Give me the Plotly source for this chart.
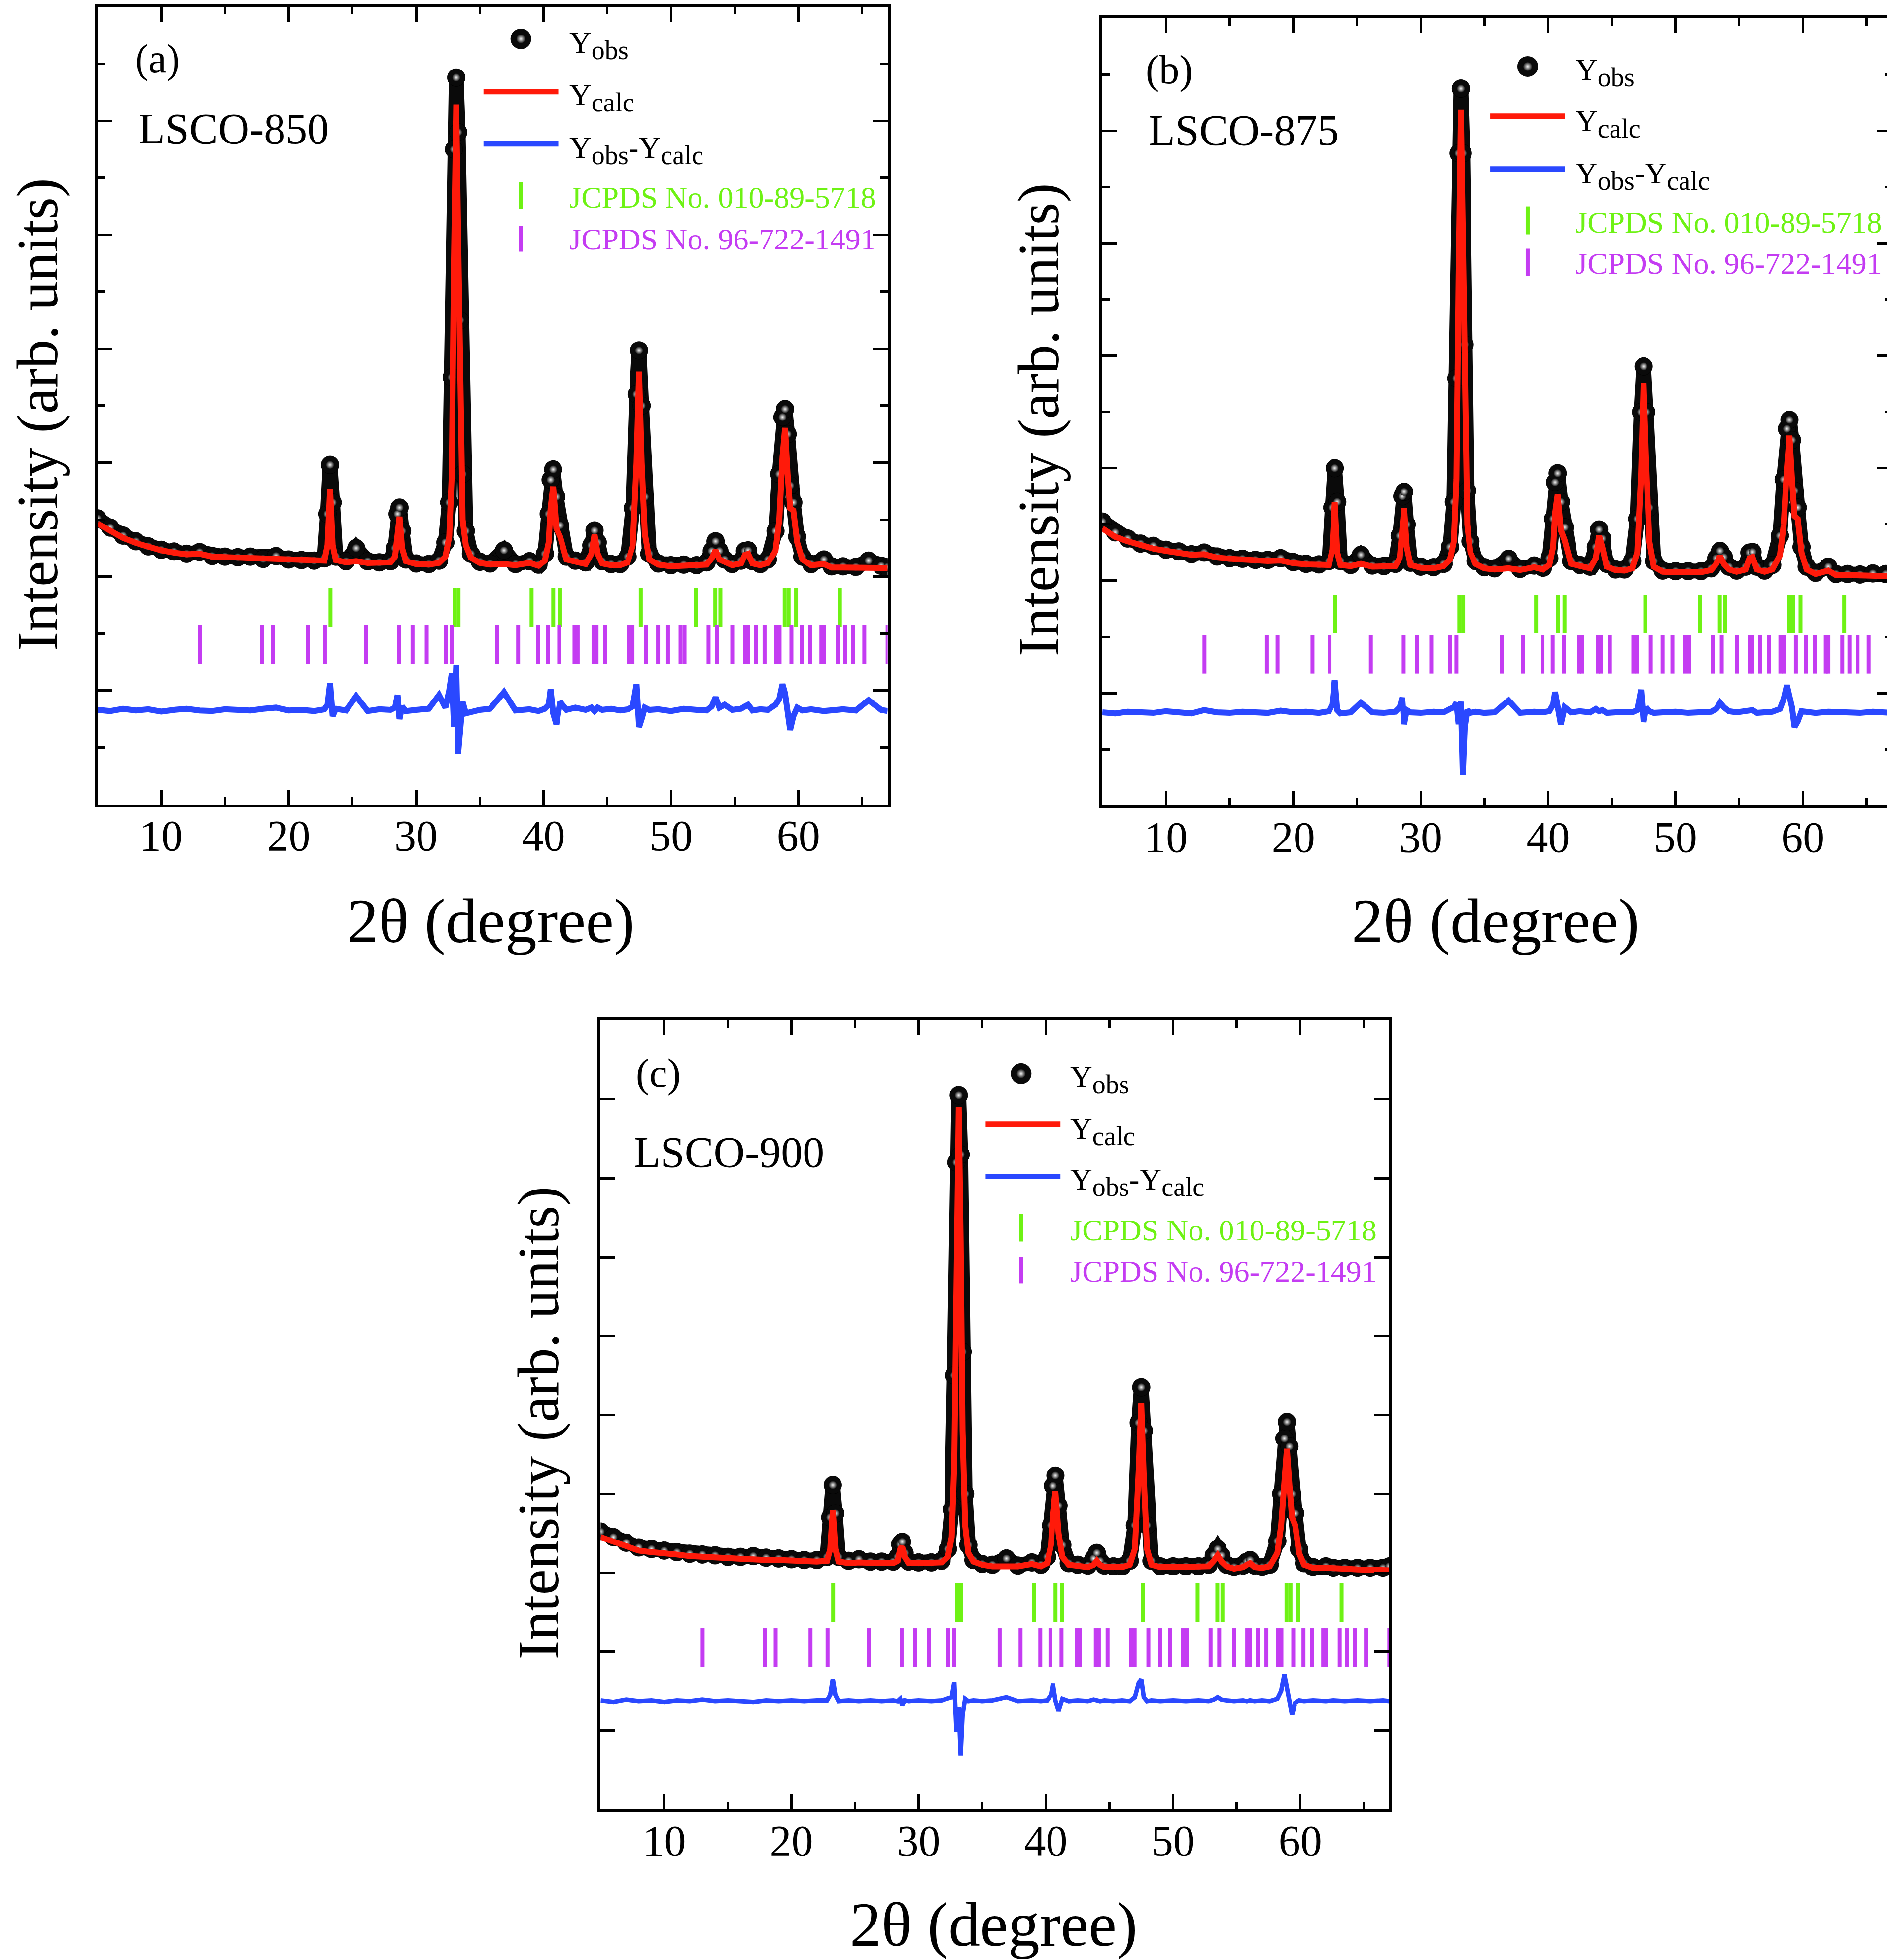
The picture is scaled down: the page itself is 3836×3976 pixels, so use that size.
import plotly.graph_objects as go

W, H = 3836, 3976
FONT = "Liberation Serif, Times New Roman, serif"

# ---------------- data ----------------
two_theta = [
    5, 6, 7, 8, 9, 10, 11, 12, 13, 14,
    15, 16, 17, 18, 19, 20, 21, 22, 22.8, 23.05,
    23.25, 23.45, 23.7, 24.5, 25.3, 26.2, 27.1, 28.0, 28.35, 28.55,
    28.7, 28.9, 29.2, 30.0, 31.0, 31.8, 32.3, 32.6, 32.8, 32.97,
    33.15, 33.3, 33.45, 33.65, 33.9, 34.3, 35.0, 35.8, 36.9, 37.8,
    38.9, 39.6, 40.1, 40.4, 40.55, 40.75, 41.0, 41.3, 41.8, 42.5,
    43.3, 43.75, 44.0, 44.25, 44.6, 45.3, 46.0, 46.6, 47.0, 47.3,
    47.5, 47.7, 47.95, 48.3, 49.0, 50.0, 51.0, 52.0, 52.8, 53.2,
    53.5, 53.8, 54.2, 54.8, 55.5, 55.8, 56.05, 56.4, 57.0, 57.6,
    58.2, 58.5, 58.75, 58.95, 59.15, 59.35, 59.6, 59.9, 60.3, 61.0,
    62.0, 62.6, 63.5, 64.5, 65.5, 66.5, 67.0,
]

# LSCO-850
obs_850 = [
    5.02, 4.86, 4.72, 4.62, 4.53, 4.47, 4.44, 4.40, 4.43, 4.36,
    4.35, 4.34, 4.35, 4.31, 4.36, 4.30, 4.29, 4.28, 4.32, 5.10,
    5.96, 5.30, 4.35, 4.27, 4.50, 4.27, 4.25, 4.27, 4.50, 5.10,
    5.21, 4.80, 4.30, 4.23, 4.22, 4.28, 4.60, 5.30, 7.50, 11.5,
    12.76, 11.8, 8.5, 5.8, 4.8, 4.4, 4.26, 4.23, 4.46, 4.22,
    4.27, 4.21, 4.40, 5.10, 5.70, 5.88, 5.40, 4.90, 4.35, 4.28,
    4.25, 4.55, 4.81, 4.60, 4.27, 4.22, 4.22, 4.35, 5.20, 7.20,
    7.97, 7.00, 5.40, 4.40, 4.23, 4.20, 4.21, 4.20, 4.25, 4.45,
    4.62, 4.45, 4.30, 4.22, 4.28, 4.45, 4.46, 4.27, 4.22, 4.30,
    4.80, 5.80, 6.80, 6.94, 6.50, 5.60, 5.30, 4.70, 4.35, 4.22,
    4.30, 4.18, 4.18, 4.17, 4.28, 4.19, 4.17,
]
calc_850 = [
    4.93, 4.80, 4.68, 4.59, 4.52, 4.46, 4.42, 4.39, 4.40, 4.35,
    4.34, 4.33, 4.32, 4.31, 4.32, 4.29, 4.28, 4.27, 4.28, 4.55,
    5.54, 4.55, 4.29, 4.25, 4.27, 4.24, 4.24, 4.25, 4.35, 4.85,
    5.05, 4.50, 4.27, 4.22, 4.21, 4.24, 4.35, 4.70, 5.80, 9.50,
    12.29, 10.0, 6.8, 5.0, 4.55, 4.33, 4.24, 4.21, 4.22, 4.20,
    4.24, 4.19, 4.28, 4.60, 5.20, 5.58, 4.85, 4.70, 4.30, 4.26,
    4.22, 4.40, 4.74, 4.40, 4.23, 4.20, 4.20, 4.25, 4.55, 6.00,
    7.60, 6.00, 4.75, 4.30, 4.21, 4.18, 4.19, 4.18, 4.21, 4.32,
    4.46, 4.30, 4.26, 4.20, 4.23, 4.38, 4.40, 4.23, 4.20, 4.24,
    4.45, 5.00, 6.10, 6.61, 5.80, 5.20, 5.16, 4.60, 4.30, 4.20,
    4.22, 4.16, 4.16, 4.16, 4.17, 4.16, 4.15,
]
diff_850 = [
    1.66, 1.64, 1.68, 1.65, 1.67, 1.63, 1.66, 1.68, 1.65, 1.64,
    1.67, 1.66, 1.65, 1.68, 1.70, 1.65, 1.66, 1.64, 1.67, 1.75,
    2.13, 1.55, 1.68, 1.65, 1.90, 1.64, 1.67, 1.66, 1.70, 1.92,
    1.50, 1.72, 1.64, 1.66, 1.68, 1.92, 1.70, 2.00, 2.30, 1.36,
    2.44, 0.89, 1.45, 1.80, 1.60, 1.63, 1.66, 1.68, 1.97, 1.65,
    1.67, 1.64, 1.68, 1.75, 2.02, 1.60, 1.41, 1.80, 1.66, 1.70,
    1.66, 1.70, 1.64, 1.70, 1.66, 1.68, 1.65, 1.67, 1.72, 2.11,
    1.36, 1.50, 1.70, 1.66, 1.67, 1.64, 1.68, 1.66, 1.65, 1.72,
    1.88, 1.70, 1.75, 1.66, 1.68, 1.72, 1.75, 1.65, 1.67, 1.66,
    1.75, 1.85, 2.11, 1.95, 1.70, 1.31, 1.55, 1.70, 1.65, 1.67,
    1.64, 1.66, 1.67, 1.65, 1.83, 1.66, 1.64,
]

# LSCO-875
obs_875 = [
    5.05, 4.86, 4.75, 4.66, 4.62, 4.55, 4.52, 4.47, 4.50, 4.43,
    4.40, 4.39, 4.37, 4.37, 4.40, 4.33, 4.30, 4.29, 4.35, 5.30,
    6.00, 5.40, 4.35, 4.28, 4.46, 4.27, 4.26, 4.30, 4.80, 5.50,
    5.58, 5.00, 4.32, 4.25, 4.24, 4.30, 4.60, 5.40, 7.60, 11.6,
    12.75, 11.6, 8.2, 5.6, 4.7, 4.35, 4.24, 4.22, 4.39, 4.21,
    4.27, 4.23, 4.40, 5.10, 5.75, 5.91, 5.40, 4.95, 4.35, 4.28,
    4.25, 4.60, 4.91, 4.75, 4.30, 4.20, 4.20, 4.35, 5.10, 7.00,
    7.81, 7.00, 5.30, 4.35, 4.18, 4.17, 4.17, 4.17, 4.22, 4.40,
    4.53, 4.42, 4.25, 4.18, 4.25, 4.50, 4.51, 4.25, 4.18, 4.28,
    4.80, 5.80, 6.70, 6.86, 6.50, 5.60, 5.30, 4.60, 4.25, 4.14,
    4.25, 4.12, 4.12, 4.11, 4.13, 4.12, 4.11,
]
calc_875 = [
    4.93, 4.78, 4.70, 4.63, 4.57, 4.53, 4.49, 4.46, 4.47, 4.41,
    4.39, 4.37, 4.36, 4.35, 4.36, 4.31, 4.29, 4.27, 4.28, 4.55,
    5.39, 4.50, 4.28, 4.26, 4.30, 4.25, 4.25, 4.26, 4.40, 5.00,
    5.29, 4.60, 4.28, 4.23, 4.22, 4.26, 4.38, 4.70, 5.80, 9.40,
    12.37, 10.2, 6.9, 5.0, 4.5, 4.3, 4.22, 4.20, 4.22, 4.19,
    4.24, 4.20, 4.28, 4.60, 5.20, 5.53, 4.90, 4.72, 4.30, 4.25,
    4.22, 4.40, 4.80, 4.60, 4.25, 4.19, 4.18, 4.22, 4.50, 5.90,
    7.52, 6.10, 4.70, 4.25, 4.16, 4.15, 4.15, 4.15, 4.19, 4.30,
    4.44, 4.30, 4.20, 4.16, 4.20, 4.40, 4.42, 4.20, 4.16, 4.20,
    4.45, 5.00, 6.00, 6.58, 5.80, 5.15, 5.10, 4.50, 4.20, 4.12,
    4.18, 4.10, 4.10, 4.09, 4.10, 4.09, 4.08,
]
diff_875 = [
    1.66, 1.64, 1.67, 1.66, 1.65, 1.68, 1.66, 1.64, 1.70, 1.66,
    1.65, 1.67, 1.66, 1.65, 1.69, 1.66, 1.67, 1.65, 1.68, 1.80,
    2.23, 1.70, 1.64, 1.66, 1.83, 1.66, 1.65, 1.67, 1.75, 1.92,
    1.45, 1.70, 1.66, 1.65, 1.67, 1.66, 1.72, 1.75, 1.83, 1.45,
    1.85, 0.54, 1.40, 1.70, 1.65, 1.67, 1.65, 1.66, 1.87, 1.65,
    1.67, 1.66, 1.68, 1.80, 2.02, 1.70, 1.45, 1.75, 1.66, 1.68,
    1.66, 1.72, 1.68, 1.70, 1.65, 1.66, 1.67, 1.66, 1.70, 2.06,
    1.49, 1.75, 1.68, 1.65, 1.66, 1.67, 1.65, 1.66, 1.67, 1.72,
    1.83, 1.75, 1.68, 1.66, 1.67, 1.68, 1.70, 1.65, 1.66, 1.67,
    1.72, 1.90, 2.14, 1.95, 1.75, 1.40, 1.50, 1.68, 1.66, 1.65,
    1.67, 1.66, 1.66, 1.65, 1.67, 1.66, 1.65,
]

# LSCO-900
obs_900 = [
    3.52, 3.45, 3.38, 3.32, 3.30, 3.28, 3.26, 3.24, 3.23, 3.22,
    3.20, 3.20, 3.21, 3.19, 3.18, 3.17, 3.16, 3.16, 3.20, 3.70,
    4.11, 3.75, 3.20, 3.15, 3.17, 3.14, 3.14, 3.14, 3.20, 3.36,
    3.39, 3.25, 3.14, 3.13, 3.13, 3.15, 3.30, 3.80, 5.50, 8.20,
    9.05, 8.30, 5.80, 4.00, 3.35, 3.16, 3.11, 3.10, 3.18, 3.09,
    3.13, 3.10, 3.20, 3.60, 4.10, 4.23, 3.85, 3.35, 3.12, 3.10,
    3.09, 3.18, 3.25, 3.15, 3.09, 3.08, 3.08, 3.15, 3.60, 4.90,
    5.35, 4.80, 3.60, 3.15, 3.08, 3.08, 3.08, 3.08, 3.10, 3.22,
    3.30, 3.22, 3.10, 3.07, 3.09, 3.14, 3.16, 3.09, 3.07, 3.10,
    3.40, 4.00, 4.70, 4.91, 4.60, 4.00, 3.75, 3.30, 3.12, 3.07,
    3.08, 3.06, 3.06, 3.06, 3.06, 3.06, 3.08,
]
calc_900 = [
    3.45, 3.39, 3.33, 3.28, 3.26, 3.25, 3.23, 3.21, 3.20, 3.19,
    3.18, 3.17, 3.17, 3.16, 3.16, 3.15, 3.14, 3.14, 3.15, 3.30,
    3.79, 3.30, 3.14, 3.12, 3.13, 3.12, 3.12, 3.12, 3.15, 3.30,
    3.33, 3.20, 3.12, 3.12, 3.12, 3.13, 3.20, 3.45, 4.40, 7.00,
    8.90, 7.20, 4.80, 3.60, 3.25, 3.14, 3.10, 3.08, 3.09, 3.08,
    3.11, 3.08, 3.12, 3.35, 3.75, 4.03, 3.50, 3.20, 3.10, 3.08,
    3.07, 3.10, 3.15, 3.10, 3.07, 3.07, 3.07, 3.10, 3.30, 4.30,
    5.15, 4.20, 3.30, 3.10, 3.07, 3.07, 3.07, 3.07, 3.08, 3.15,
    3.22, 3.14, 3.08, 3.05, 3.07, 3.10, 3.12, 3.07, 3.06, 3.08,
    3.25, 3.60, 4.10, 4.57, 4.10, 3.70, 3.60, 3.25, 3.10, 3.06,
    3.06, 3.05, 3.05, 3.04, 3.04, 3.04, 3.03,
]
diff_900 = [
    1.38, 1.36, 1.39, 1.37, 1.38, 1.36, 1.38, 1.37, 1.39, 1.37,
    1.38, 1.37, 1.36, 1.38, 1.37, 1.38, 1.37, 1.38, 1.38, 1.45,
    1.65, 1.45, 1.37, 1.38, 1.37, 1.38, 1.37, 1.38, 1.37, 1.40,
    1.32, 1.38, 1.37, 1.38, 1.37, 1.38, 1.40, 1.42, 1.61, 0.98,
    1.30, 0.68, 1.20, 1.40, 1.37, 1.38, 1.37, 1.38, 1.42, 1.37,
    1.38, 1.37, 1.38, 1.45, 1.59, 1.38, 1.25, 1.40, 1.37, 1.38,
    1.37, 1.39, 1.38, 1.37, 1.38, 1.37, 1.38, 1.37, 1.42, 1.60,
    1.65, 1.42, 1.37, 1.38, 1.37, 1.38, 1.37, 1.38, 1.37, 1.39,
    1.42, 1.39, 1.38, 1.37, 1.38, 1.37, 1.38, 1.37, 1.38, 1.37,
    1.40, 1.50, 1.71, 1.55, 1.40, 1.20, 1.35, 1.38, 1.37, 1.38,
    1.37, 1.38, 1.37, 1.38, 1.37, 1.38, 1.37,
]

# Bragg reflection positions
refl_010_89_5718 = [23.28, 33.03, 33.33, 39.06, 40.76, 41.29, 47.63, 51.93,
                    53.48, 53.88, 58.92, 59.23, 59.82, 63.25]
refl_96_722_1491 = [13.02, 17.92, 18.76, 21.5, 22.84, 26.08, 28.66, 29.72, 30.83,
                    32.32, 32.8, 36.37, 38.01, 39.56, 40.36, 41.23, 42.43, 42.68,
                    43.92, 44.16, 44.85, 46.7, 46.98, 48.06, 48.99, 49.76, 50.75,
                    51.06, 52.95, 53.63, 54.81, 55.83, 56.04, 56.66, 57.34, 58.24,
                    58.52, 59.45, 60.25, 60.93, 61.8, 62.01, 63.1, 63.66, 64.3,
                    65.17, 67.0]

x_ticks = [10, 20, 30, 40, 50, 60]
labels = ["(a)", "(b)", "(c)"]
samples = ["LSCO-850", "LSCO-875", "LSCO-900"]
SUB = "<sub><span style='font-size:54px'>{}</span></sub>"
legend_names = ["Y" + SUB.format("obs"), "Y" + SUB.format("calc"),
                "Y" + SUB.format("obs") + "-Y" + SUB.format("calc"),
                "JCPDS No. 010-89-5718", "JCPDS No. 96-722-1491"]

# ---------------- styles / layout ----------------
RED = "#FF1A0A"
BLUE = "#2A48FF"
GREEN = "#6EF214"
MAGENTA = "#C43CF2"

panels = [
    dict(obs=obs_850, calc=calc_850, diff=diff_850, ymax=14, dt=2, minor=1,
         xpx=(190, 1795), ypx=(2, 1621.5), g=3.46, m=2.81, dw=12,
         lab=(264, 108), samp=(271, 250), leg_x=1146, rows=(80, 186, 293, 388, 473),
         sph=(1050, 67), line_x=(974, 1126), red_y=174, blue_y=280, bar_x=1050,
         gbar=(358, 412), mbar=(447, 499), xt=(989, 1858), yt=(68, 830)),
    dict(obs=obs_875, calc=calc_875, diff=diff_875, ymax=14, dt=2, minor=1,
         xpx=(2231, 3835), ypx=(25, 1624), g=3.41, m=2.69, dw=12,
         lab=(2317, 130), samp=(2323, 253), leg_x=3190, rows=(135, 239, 345, 439, 523),
         sph=(3095, 123), line_x=(3019, 3171), red_y=224, blue_y=331, bar_x=3095,
         gbar=(407, 464), mbar=(493, 548), xt=(3030, 1858), yt=(2102, 840)),
    dict(obs=obs_900, calc=calc_900, diff=diff_900, ymax=10, dt=1, minor=None,
         xpx=(1212, 2814), ypx=(2060, 3662), g=2.62, m=2.05, dw=9,
         lab=(1282, 2168), samp=(1278, 2328), leg_x=2164, rows=(2180, 2285, 2388, 2485, 2570),
         sph=(2066, 2168), line_x=(1994, 2146), red_y=2271, blue_y=2377, bar_x=2066,
         gbar=(2453, 2509), mbar=(2540, 2594), xt=(2011, 3896), yt=(1086, 2878)),
]


def px(x):
    return x / W


def py(y):
    return 1 - y / H


fig = go.Figure()
layout = dict(width=W, height=H, margin=dict(l=0, r=0, t=0, b=0),
              paper_bgcolor="white", plot_bgcolor="rgba(0,0,0,0)", showlegend=False)
annotations = []
shapes = []

for i, p in enumerate(panels, start=1):
    xa = "x" if i == 1 else f"x{i}"
    ya = "y" if i == 1 else f"y{i}"
    # observed: thick black band + spheres
    fig.add_trace(go.Scatter(x=two_theta, y=p["obs"], xaxis=xa, yaxis=ya, mode="lines+markers",
                             line=dict(color="#0a0a0a", width=30),
                             marker=dict(size=36, color="#0a0a0a",
                                         line=dict(color="#000000", width=1)),
                             hoverinfo="skip"))
    fig.add_trace(go.Scatter(x=two_theta, y=p["obs"], xaxis=xa, yaxis=ya, mode="markers",
                             marker=dict(size=16, color="#1a1a1a",
                                         gradient=dict(type="radial", color="#f4f4f4")),
                             hoverinfo="skip"))
    fig.add_trace(go.Scatter(x=two_theta, y=p["calc"], xaxis=xa, yaxis=ya, mode="lines",
                             line=dict(color=RED, width=12), hoverinfo="skip"))
    fig.add_trace(go.Scatter(x=two_theta, y=p["diff"], xaxis=xa, yaxis=ya, mode="lines",
                             line=dict(color=BLUE, width=p["dw"]), hoverinfo="skip"))
    fig.add_trace(go.Scatter(x=refl_010_89_5718, y=[p["g"]] * len(refl_010_89_5718),
                             xaxis=xa, yaxis=ya, mode="markers",
                             marker=dict(symbol="line-ns", size=56,
                                         line=dict(color=GREEN, width=8)),
                             hoverinfo="skip"))
    fig.add_trace(go.Scatter(x=refl_96_722_1491, y=[p["m"]] * len(refl_96_722_1491),
                             xaxis=xa, yaxis=ya, mode="markers",
                             marker=dict(symbol="line-ns", size=56,
                                         line=dict(color=MAGENTA, width=8)),
                             hoverinfo="skip"))

    xkey = "xaxis" if i == 1 else f"xaxis{i}"
    ykey = "yaxis" if i == 1 else f"yaxis{i}"
    layout[xkey] = dict(domain=[px(p["xpx"][0]), px(p["xpx"][1])], range=[5, 67],
                        anchor=ya, tickmode="array", tickvals=x_ticks,
                        ticks="inside", ticklen=30, tickwidth=5, tickcolor="black",
                        minor=dict(ticks="inside", ticklen=15, tickwidth=5, tickcolor="black",
                                   dtick=5, tick0=0),
                        showline=True, linewidth=6, linecolor="black", mirror="ticks",
                        showgrid=False, zeroline=False,
                        tickfont=dict(family=FONT, size=88, color="black"))
    yax = dict(domain=[py(p["ypx"][1]), py(p["ypx"][0])], range=[0, p["ymax"]],
               anchor=xa, dtick=p["dt"], tick0=0,
               ticks="inside", ticklen=30, tickwidth=5, tickcolor="black",
               showticklabels=False,
               showline=True, linewidth=6, linecolor="black", mirror="ticks",
               showgrid=False, zeroline=False)
    if p["minor"]:
        yax["minor"] = dict(ticks="inside", ticklen=15, tickwidth=5, tickcolor="black",
                            dtick=p["minor"], tick0=0)
    layout[ykey] = yax

    # texts
    annotations.append(dict(text=labels[i - 1], x=px(p["lab"][0]), y=py(p["lab"][1]),
                            xref="paper", yref="paper", xanchor="left", yanchor="middle",
                            showarrow=False, font=dict(family=FONT, size=82, color="black")))
    annotations.append(dict(text=samples[i - 1], x=px(p["samp"][0]), y=py(p["samp"][1]),
                            xref="paper", yref="paper", xanchor="left", yanchor="middle",
                            showarrow=False, font=dict(family=FONT, size=88, color="black")))
    leg_colors = ["black", "black", "black", GREEN, MAGENTA]
    for name, ry, col in zip(legend_names, p["rows"], leg_colors):
        annotations.append(dict(text=name, x=px(p["leg_x"]), y=py(ry),
                                xref="paper", yref="paper", xanchor="left", yanchor="middle",
                                showarrow=False, font=dict(family=FONT, size=62, color=col)))
    annotations.append(dict(text="2θ (degree)", x=px(p["xt"][0]), y=py(p["xt"][1]),
                            xref="paper", yref="paper", xanchor="center", yanchor="middle",
                            showarrow=False, font=dict(family=FONT, size=128, color="black")))
    annotations.append(dict(text="Intensity (arb. units)", x=px(p["yt"][0]), y=py(p["yt"][1]),
                            xref="paper", yref="paper", xanchor="center", yanchor="middle",
                            textangle=-90, showarrow=False,
                            font=dict(family=FONT, size=118, color="black")))
    # legend samples
    shapes.append(dict(type="line", xref="paper", yref="paper",
                       x0=px(p["line_x"][0]), x1=px(p["line_x"][1]),
                       y0=py(p["red_y"]), y1=py(p["red_y"]), line=dict(color=RED, width=11)))
    shapes.append(dict(type="line", xref="paper", yref="paper",
                       x0=px(p["line_x"][0]), x1=px(p["line_x"][1]),
                       y0=py(p["blue_y"]), y1=py(p["blue_y"]), line=dict(color=BLUE, width=11)))
    shapes.append(dict(type="line", xref="paper", yref="paper",
                       x0=px(p["bar_x"]), x1=px(p["bar_x"]),
                       y0=py(p["gbar"][0]), y1=py(p["gbar"][1]), line=dict(color=GREEN, width=8)))
    shapes.append(dict(type="line", xref="paper", yref="paper",
                       x0=px(p["bar_x"]), x1=px(p["bar_x"]),
                       y0=py(p["mbar"][0]), y1=py(p["mbar"][1]), line=dict(color=MAGENTA, width=8)))

# legend sphere glyphs on an invisible pixel-space overlay axis
sph_x = [p["sph"][0] for p in panels]
sph_y = [p["sph"][1] for p in panels]
fig.add_trace(go.Scatter(x=sph_x, y=sph_y, xaxis="x4", yaxis="y4", mode="markers",
                         marker=dict(size=42, color="#0a0a0a"), cliponaxis=False,
                         hoverinfo="skip"))
fig.add_trace(go.Scatter(x=sph_x, y=sph_y, xaxis="x4", yaxis="y4", mode="markers",
                         marker=dict(size=18, color="#1a1a1a",
                                     gradient=dict(type="radial", color="#f4f4f4")),
                         cliponaxis=False, hoverinfo="skip"))
layout["xaxis4"] = dict(domain=[0, 1], range=[0, W], anchor="y4", visible=False)
layout["yaxis4"] = dict(domain=[0, 1], range=[H, 0], anchor="x4", visible=False)

layout["annotations"] = annotations
layout["shapes"] = shapes
fig.update_layout(**layout)
for k in ("xaxis", "xaxis2", "xaxis3"):
    fig.layout[k].ticklabelstandoff = -18
fig.write_html("out.html")
